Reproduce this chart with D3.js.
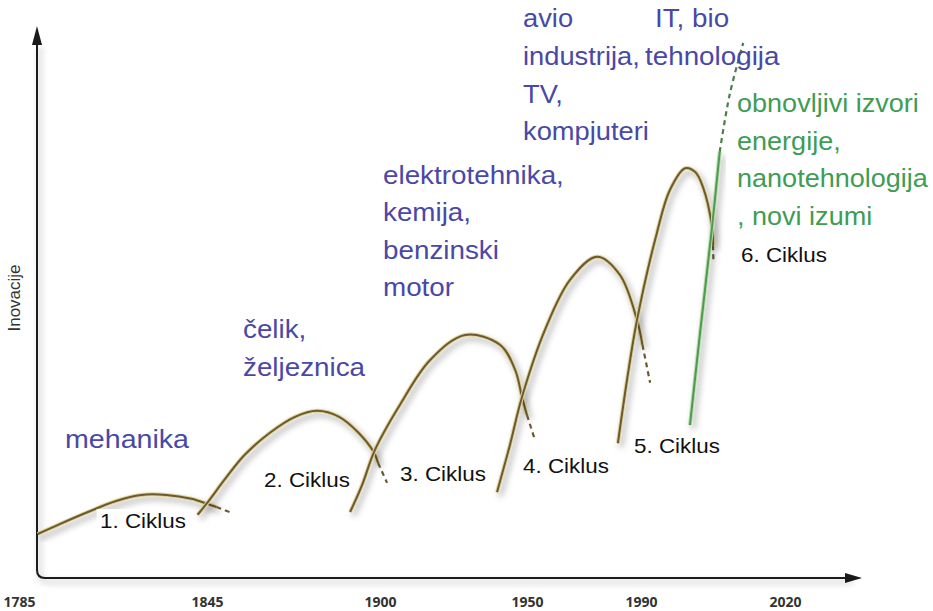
<!DOCTYPE html>
<html>
<head>
<meta charset="utf-8">
<script src="https://cdn.jsdelivr.net/npm/d3@7/dist/d3.min.js"></script>
<style>
  body { margin: 0; background: #fff; }
  svg { display: block; font-family: "Liberation Sans", Arial, sans-serif; }
</style>
</head>
<body>
<div id="chart"></div>
<script>
// Tick labels on the time axis
var tickYears = [1785, 1845, 1900, 1950, 1990, 2020];

// Innovation waves: [year, innovation level 0-100]
var cycle1 = [[1791, 8], [1798, 9.8], [1807, 12], [1816, 14], [1824, 15.1], [1832, 15.1], [1840, 14.4], [1845, 13.5], [1848, 12.9], [1853, 11.8]];
var cycle2 = [[1842, 11.5], [1845, 13.6], [1851, 18.2], [1857, 22.4], [1865, 26.4], [1873, 29.3], [1880, 30.4], [1887, 29.3], [1893, 26.5], [1898, 22.9], [1899.4, 20.9], [1902.4, 17.3]];
var cycle3 = [[1890.5, 12], [1894.3, 16.9], [1898.4, 23.3], [1906.8, 31.5], [1917, 39.6], [1929, 44.2], [1940.8, 42.4], [1946, 37.8], [1948.3, 32.9], [1950, 29.6], [1952.8, 25.1]];
var cycle4 = [[1939.8, 15.6], [1944.2, 24.2], [1948.3, 32.9], [1956.3, 45.1], [1965.1, 54.2], [1974.6, 58.4], [1982.6, 55.1], [1988.6, 46.9], [1990.3, 42.4], [1991.9, 35.5]];
var cycle5 = [[1981.9, 24.5], [1985.1, 36], [1988.6, 46.9], [1993.3, 62.7], [1996, 70.5], [1999.2, 74.5], [2001.3, 73.8], [2002.9, 71.1], [2004.8, 63.8], [2005, 60.5], [2005.1, 57.3]];
var cycle6 = [[2000.2, 27.8], [2002.3, 44.5], [2004.8, 63.8], [2006.4, 77.5], [2008.5, 88], [2011.3, 97.3]];

// index where each wave turns dashed
var dashFrom = [8, 10, 9, 8, 9, 3];
var cycles = [cycle1, cycle2, cycle3, cycle4, cycle5, cycle6];
var cycleNames = ["1. Ciklus", "2. Ciklus", "3. Ciklus", "4. Ciklus", "5. Ciklus", "6. Ciklus"];

var width = 933, height = 611;
var axisX = 37, axisY = 578;

var svg = d3.select("#chart").append("svg")
  .attr("width", width)
  .attr("height", height);

var defs = svg.append("defs");
var f = defs.append("filter").attr("id", "shadow")
  .attr("x", "-20%").attr("y", "-20%").attr("width", "140%").attr("height", "140%");
f.append("feDropShadow").attr("dx", 3).attr("dy", 4).attr("stdDeviation", 3)
  .attr("flood-color", "#000").attr("flood-opacity", 0.3);

// time scale is not uniform in the picture, so piecewise
var x = d3.scaleLinear()
  .domain(tickYears)
  .range([19, 207, 380, 527, 641, 785]);

var y = d3.scaleLinear()
  .domain([0, 100])
  .range([axisY, 28]);

// axes with rounded corner and arrow heads
var ax = d3.path();
ax.moveTo(axisX, 42);
ax.lineTo(axisX, axisY - 8);
ax.quadraticCurveTo(axisX, axisY, axisX + 8, axisY);
ax.lineTo(850, axisY);
svg.append("path")
  .attr("d", ax.toString())
  .attr("fill", "none")
  .attr("stroke", "#1a1a1a")
  .attr("stroke-width", 2)
  .attr("filter", "url(#shadow)");
svg.append("path")
  .attr("d", `M${axisX},26 L${axisX - 5},45 L${axisX + 5},45 Z`)
  .attr("fill", "#1a1a1a");
svg.append("path")
  .attr("d", `M862,${axisY} L845,${axisY - 5} L845,${axisY + 5} Z`)
  .attr("fill", "#1a1a1a");

// year labels
var xAxis = svg.append("g")
  .attr("transform", `translate(0, ${axisY})`)
  .call(d3.axisBottom(x).tickValues(tickYears).tickFormat(d3.format("d")).tickSize(0));
xAxis.select(".domain").remove();
xAxis.selectAll("text")
  .attr("y", 29)
  .attr("dy", 0)
  .style("font-family", "'Open Sans', sans-serif")
  .style("font-weight", "700")
  .style("font-size", "14px")
  .attr("fill", "#333");

svg.append("text")
  .attr("transform", "translate(20, 298) rotate(-90)")
  .attr("text-anchor", "middle")
  .style("font-size", "17px")
  .attr("fill", "#333")
  .text("Inovacije");

var line = d3.line()
  .x(d => x(d[0]))
  .y(d => y(d[1]))
  .curve(d3.curveCatmullRom.alpha(0.5));

cycles.forEach(function(pts, i) {
  var green = i === 5;
  var col = green ? "#4f9a4c" : "#6b5a2e";
  var glow = green ? "#b9dcb2" : "#ddd09a";
  var solid = pts.slice(0, dashFrom[i] + 1);
  var dashed = pts.slice(dashFrom[i]);
  var g = svg.append("g");
  g.append("path").attr("d", line(solid))
    .attr("fill", "none").attr("stroke", glow).attr("stroke-width", 4)
    .attr("filter", "url(#shadow)");
  g.append("path").attr("d", line(solid))
    .attr("fill", "none").attr("stroke", col).attr("stroke-width", 2);
  g.append("path").attr("d", line(dashed))
    .attr("fill", "none").attr("stroke", green ? "#4a7f4a" : col).attr("stroke-width", 2.2)
    .attr("stroke-dasharray", "5,4");
});

// cycle labels on white boxes
var labelAt = [[100, 528], [264, 487], [400, 481], [523, 473], [634, 453], [741, 262]];
cycleNames.forEach(function(name, i) {
  var t = svg.append("text")
    .attr("transform", `translate(${labelAt[i][0]}, ${labelAt[i][1]}) scale(1.12, 1)`)
    .style("font-size", "20px")
    .attr("fill", "#111")
    .text(name);
  var b = t.node().getBBox();
  svg.insert("rect", function() { return t.node(); })
    .attr("transform", t.attr("transform"))
    .attr("x", b.x - 3).attr("y", b.y - 1)
    .attr("width", b.width + 6).attr("height", b.height + 2)
    .attr("fill", "#fff");
});

function block(lines, x0, y0, gap, color, sx) {
  var t = svg.append("text")
    .attr("transform", `translate(${x0}, ${y0}) scale(${sx}, 1)`)
    .style("font-size", "26px")
    .attr("fill", color);
  lines.forEach(function(s, k) {
    t.append("tspan").attr("x", 0).attr("y", k * gap).text(s);
  });
}

var blue = "#4a48a6";
block(["mehanika"], 65, 448, 37.5, blue, 1.1);
block(["čelik,", "željeznica"], 243, 338, 38, blue, 1.07);
block(["elektrotehnika,", "kemija,", "benzinski", "motor"], 383, 184, 37.3, blue, 1.07);
block(["avio", "industrija,", "TV,", "kompjuteri"], 523, 27, 37.8, blue, 1.05);
block(["IT, bio"], 655, 27, 37.5, blue, 1.07);
block(["tehnologija"], 645, 65, 37.5, blue, 1.07);
block(["obnovljivi izvori", "energije,", "nanotehnologija", ", novi izumi"], 737, 112, 37.7, "#3f9c55", 1.04);
</script>
</body>
</html>
